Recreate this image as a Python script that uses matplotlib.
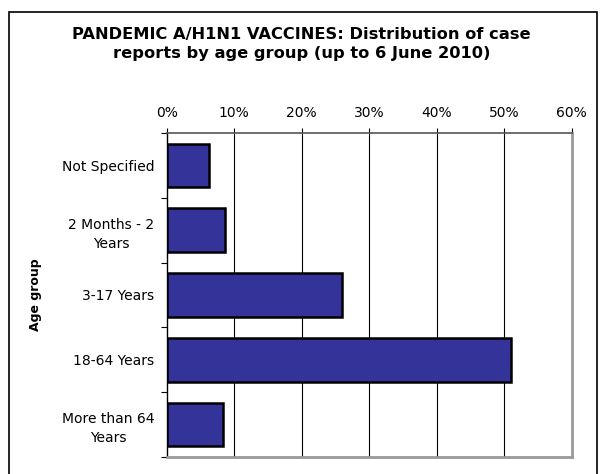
import matplotlib
matplotlib.use("Agg")
import matplotlib.pyplot as plt
from matplotlib.patches import Rectangle
import numpy as np

categories = ["Not Specified", "2 Months - 2\nYears", "3-17 Years", "18-64 Years", "More than 64\nYears"]
values = [6.2, 8.6, 25.9, 51.0, 8.3]
xticks = [0, 10, 20, 30, 40, 50, 60]
xtick_labels = ["0%", "10%", "20%", "30%", "40%", "50%", "60%"]
title = "PANDEMIC A/H1N1 VACCINES: Distribution of case\nreports by age group (up to 6 June 2010)"

plt.rcParams['font.family'] = ['DejaVu Sans']

fig = plt.figure(figsize=(6.03, 4.74), dpi=100)
fig.patches.append(Rectangle((8.5/603, -0.1), (597-8.5)/603, 1 - 12/474 + 0.1,
                             transform=fig.transFigure, fill=False,
                             edgecolor='black', linewidth=1.2))

ax = fig.add_axes([166.7/603, 1-457/474, (571.7-166.7)/603, (457-133)/474])
y = np.arange(len(categories))
ax.barh(y, values, height=0.67, color='#333399', edgecolor='black', linewidth=1.8, zorder=3)
ax.set_xlim(0, 60)
ax.set_ylim(len(categories)-0.5, -0.5)

ax.xaxis.tick_top()
ax.set_xticks(xticks)
ax.set_xticklabels(xtick_labels, fontsize=10)
ax.tick_params(axis='x', direction='out', length=3.5, width=0.8, colors='black', pad=6)
ax.set_yticks(y)
ax.set_yticklabels(categories, fontsize=10, linespacing=1.45)
ax.tick_params(axis='y', which='major', length=0, pad=9)
ax.set_yticks(np.arange(-0.5, len(categories)), minor=True)
ax.tick_params(axis='y', which='minor', length=4, width=0.8, direction='out')
for lab in ax.get_yticklabels():
    lab.set_horizontalalignment('right')
    lab.set_multialignment('center')

for xv in xticks[1:-1]:
    ax.axvline(xv, color='black', linewidth=0.8, zorder=1)

ax.spines['left'].set_color('black')
ax.spines['left'].set_linewidth(1.0)
ax.spines['top'].set_color('#555555')
ax.spines['top'].set_linewidth(1.2)
ax.spines['right'].set_color('#999999')
ax.spines['right'].set_linewidth(2.0)
ax.spines['bottom'].set_color('#999999')
ax.spines['bottom'].set_linewidth(2.0)

ax.set_ylabel("Age group", fontsize=9, fontweight='bold')
ax.yaxis.set_label_coords((42 - 166.7) / 405, 0.5)

fig.text(0.5, 1 - 44/474, title, ha='center', va='center', fontsize=11.7, fontweight='bold',
         linespacing=1.3)

fig.savefig("out.png", dpi=100)
